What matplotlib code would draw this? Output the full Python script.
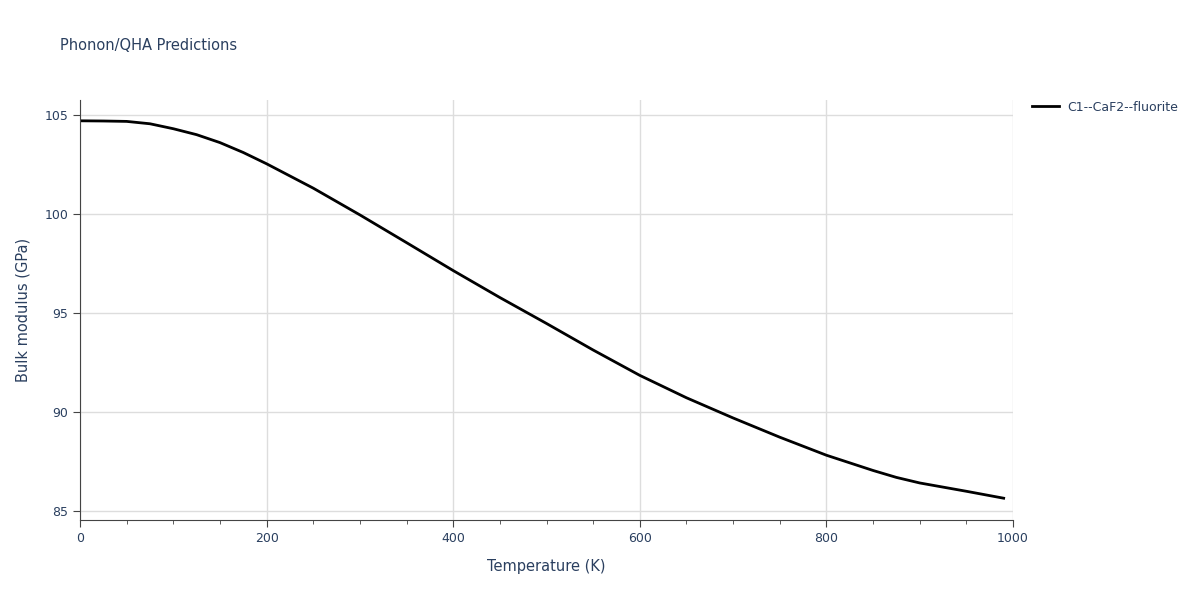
import matplotlib
matplotlib.use("Agg")
import matplotlib.pyplot as plt
from matplotlib.ticker import MultipleLocator

temps = [0, 25, 50, 75, 100, 125, 150, 175, 200, 250, 300, 350, 400, 450, 500, 550, 600, 650, 700, 750, 800, 850, 875, 900, 950, 990]
bulk = [104.7, 104.69, 104.67, 104.55, 104.3, 104.0, 103.6, 103.1, 102.53, 101.3, 99.95, 98.55, 97.14, 95.78, 94.47, 93.13, 91.85, 90.72, 89.7, 88.73, 87.82, 87.05, 86.7, 86.42, 86.0, 85.65]
series_name = "C1--CaF2--fluorite"

tc = "#2a3f5f"
fig = plt.figure(figsize=(12, 6), dpi=100)
ax = fig.add_axes([80/1200, 1-520/600, (1013-80)/1200, (520-100)/600])
ax.plot(temps, bulk, color="black", lw=2, label=series_name)
ax.set_xlim(0, 1000)
ax.set_ylim(84.55, 105.75)
ax.xaxis.set_major_locator(MultipleLocator(200))
ax.xaxis.set_minor_locator(MultipleLocator(50))
ax.yaxis.set_major_locator(MultipleLocator(5))
ax.grid(True, which="major", color="#dddddd", lw=1)
ax.set_axisbelow(True)
for s in ["top", "right"]:
    ax.spines[s].set_visible(False)
for s in ["left", "bottom"]:
    ax.spines[s].set_color("#444444")
ax.tick_params(colors="#444444", labelcolor=tc, labelsize=9, direction="out", length=5)
ax.tick_params(which="minor", length=3, color="#444444")
ax.set_xlabel("Temperature (K)", color=tc, fontsize=10.5, labelpad=10)
ax.set_ylabel("Bulk modulus (GPa)", color=tc, fontsize=10.5, labelpad=10)
fig.text(60/1200, 1-45/600, "Phonon/QHA Predictions", color=tc, fontsize=10.5, va="center")
ax.legend(loc="upper left", bbox_to_anchor=(1.015, 1.01), frameon=False, labelcolor=tc,
          fontsize=9, handlelength=2.2, handletextpad=0.6, borderaxespad=0)
fig.savefig("out.png", dpi=100)
